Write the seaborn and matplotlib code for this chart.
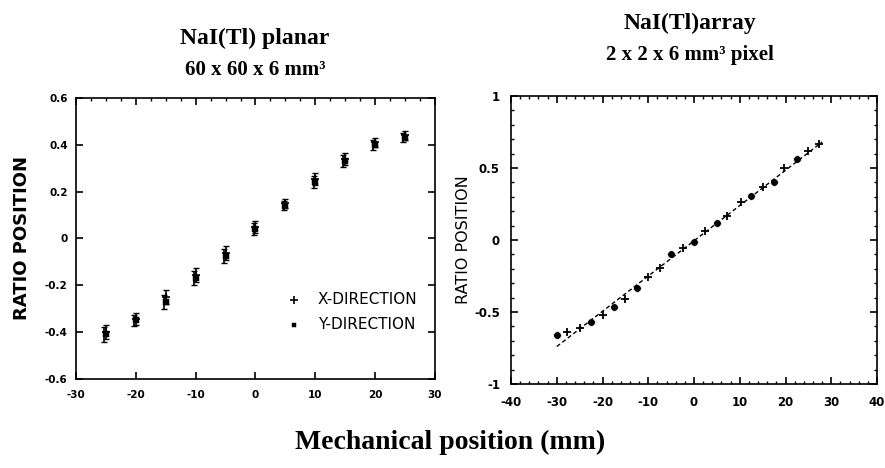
import numpy as np
import pandas as pd
import matplotlib
matplotlib.use("Agg")
import matplotlib.pyplot as plt
import seaborn as sns
from matplotlib.ticker import MultipleLocator

sns.set_theme(style="ticks")
plt.rcParams['font.family'] = ['DejaVu Sans']
plt.rcParams.update({'text.color': 'black', 'axes.labelcolor': 'black',
                     'xtick.color': 'black', 'ytick.color': 'black',
                     'axes.unicode_minus': False})

# ---- Left panel data: NaI(Tl) planar ----
planar_pos = [-25, -20, -15, -10, -5, 0, 5, 10, 15, 20, 25]
planar_x_dir = [-0.40, -0.345, -0.25, -0.155, -0.06, 0.05, 0.15, 0.255, 0.34, 0.41, 0.44]
planar_y_dir = [-0.41, -0.35, -0.27, -0.17, -0.075, 0.04, 0.14, 0.24, 0.33, 0.40, 0.43]
planar_err = [0.03, 0.025, 0.03, 0.03, 0.03, 0.025, 0.02, 0.025, 0.025, 0.02, 0.02]

# ---- Right panel data: NaI(Tl) array ----
array_pos = [-30, -27.7, -25, -22.5, -20, -17.5, -15, -12.5, -10, -7.5, -5, -2.5,
             0, 2.5, 5, 7.3, 10.2, 12.4, 15, 17.4, 19.7, 22.5, 25, 27.4]
array_ratio = [-0.66, -0.64, -0.61, -0.567, -0.52, -0.463, -0.41, -0.336, -0.255, -0.197,
               -0.10, -0.058, -0.012, 0.0625, 0.12, 0.167, 0.266, 0.305, 0.366, 0.405,
               0.50, 0.56, 0.618, 0.667]
array_marker = ['o', '+', '+', 'o', '+', 'o', '+', 'o', '+', '+', 'o', '+',
                'o', '+', 'o', '+', '+', 'o', '+', 'o', '+', 'o', '+', '+']
fit_pos = [-30, 28]
fit_ratio = [-0.74, 0.68]

fig = plt.figure(figsize=(8.85, 4.68), dpi=100)
ax1 = fig.add_axes([0.0859, 0.1902, 0.4056, 0.6004])
ax2 = fig.add_axes([0.5774, 0.1795, 0.4136, 0.6154])

# Left panel
ax1.errorbar(planar_pos, planar_x_dir, yerr=planar_err, fmt='none', ecolor='black',
             elinewidth=1.2, capsize=2.5)
ax1.errorbar([p - 0.3 for p in planar_pos], planar_y_dir, yerr=planar_err, fmt='none',
             ecolor='black', elinewidth=1.2, capsize=2.5)
sns.scatterplot(x=planar_pos, y=planar_x_dir, marker='+', color='black', s=40,
                linewidth=1.2, ax=ax1, label='X-DIRECTION')
sns.scatterplot(x=planar_pos, y=planar_y_dir, marker='s', color='black', s=18,
                edgecolor='black', ax=ax1, label='Y-DIRECTION')
ax1.set_xlim(-30, 30)
ax1.set_ylim(-0.6, 0.6)
ax1.set_xticks([-30, -20, -10, 0, 10, 20, 30])
ax1.set_yticks([-0.6, -0.4, -0.2, 0, 0.2, 0.4, 0.6])
ax1.set_yticklabels(['-0.6', '-0.4', '-0.2', '0', '0.2', '0.4', '0.6'])
ax1.xaxis.set_minor_locator(MultipleLocator(2.5))
ax1.tick_params(which='both', direction='in', top=True, right=True)
ax1.tick_params(which='major', length=5, width=1.2, labelsize=7.5)
ax1.tick_params(axis='x', which='major', pad=8)
ax1.tick_params(axis='y', which='major', pad=6)
ax1.tick_params(which='minor', length=2.5, width=1, bottom=False)
for lab in ax1.get_xticklabels() + ax1.get_yticklabels():
    lab.set_fontweight('bold')
ax1.set_ylabel('RATIO POSITION', fontsize=13, fontweight='bold', labelpad=10)
leg = ax1.legend(loc='lower right', bbox_to_anchor=(0.99, 0.12), frameon=False,
                 fontsize=11, handletextpad=0.6, labelspacing=0.6, markerscale=0.8)
for sp in ax1.spines.values():
    sp.set_linewidth(1.2)
    sp.set_color('black')

# Right panel
sns.lineplot(x=fit_pos, y=fit_ratio, color='black', linestyle=(0, (3, 2)),
             linewidth=1.0, ax=ax2)
circ_x = [p for p, m in zip(array_pos, array_marker) if m == 'o']
circ_y = [r for r, m in zip(array_ratio, array_marker) if m == 'o']
plus_x = [p for p, m in zip(array_pos, array_marker) if m == '+']
plus_y = [r for r, m in zip(array_ratio, array_marker) if m == '+']
sns.scatterplot(x=circ_x, y=circ_y, marker='o', color='black', s=30, ax=ax2)
sns.scatterplot(x=plus_x, y=plus_y, marker='+', color='black', s=35, linewidth=1.3, ax=ax2)
ax2.set_xlim(-40, 40)
ax2.set_ylim(-1, 1)
ax2.set_xticks([-40, -30, -20, -10, 0, 10, 20, 30, 40])
ax2.set_yticks([-1, -0.5, 0, 0.5, 1])
ax2.set_yticklabels(['-1', '-0.5', '0', '0.5', '1'])
ax2.xaxis.set_minor_locator(MultipleLocator(2))
ax2.yaxis.set_minor_locator(MultipleLocator(0.1))
ax2.tick_params(which='both', direction='in', top=True, right=True)
ax2.tick_params(which='major', length=5, width=1.2, labelsize=8.5)
ax2.tick_params(axis='x', which='major', pad=9)
ax2.tick_params(axis='y', which='major', pad=8)
ax2.tick_params(which='minor', length=2.5, width=1)
for lab in ax2.get_xticklabels() + ax2.get_yticklabels():
    lab.set_fontweight('bold')
ax2.set_ylabel('RATIO POSITION', fontsize=11.5, labelpad=2)
for sp in ax2.spines.values():
    sp.set_linewidth(1.2)
    sp.set_color('black')

serif = ['Liberation Serif', 'DejaVu Serif']
fig.text(255 / 885, 1 - 38 / 468, 'NaI(Tl) planar', ha='center', va='center',
         fontsize=17, fontweight='bold', family=serif)
fig.text(255 / 885, 1 - 70 / 468, '60 x 60 x 6 mm³', ha='center', va='center',
         fontsize=15, fontweight='bold', family=serif)
fig.text(690 / 885, 1 - 23 / 468, 'NaI(Tl)array', ha='center', va='center',
         fontsize=17, fontweight='bold', family=serif)
fig.text(690 / 885, 1 - 55 / 468, '2 x 2 x 6 mm³ pixel', ha='center', va='center',
         fontsize=15, fontweight='bold', family=serif)
fig.text(450 / 885, 1 - 442 / 468, 'Mechanical position (mm)', ha='center', va='center',
         fontsize=20, fontweight='bold', family=serif)

fig.savefig('out.png', dpi=100, facecolor='white')
